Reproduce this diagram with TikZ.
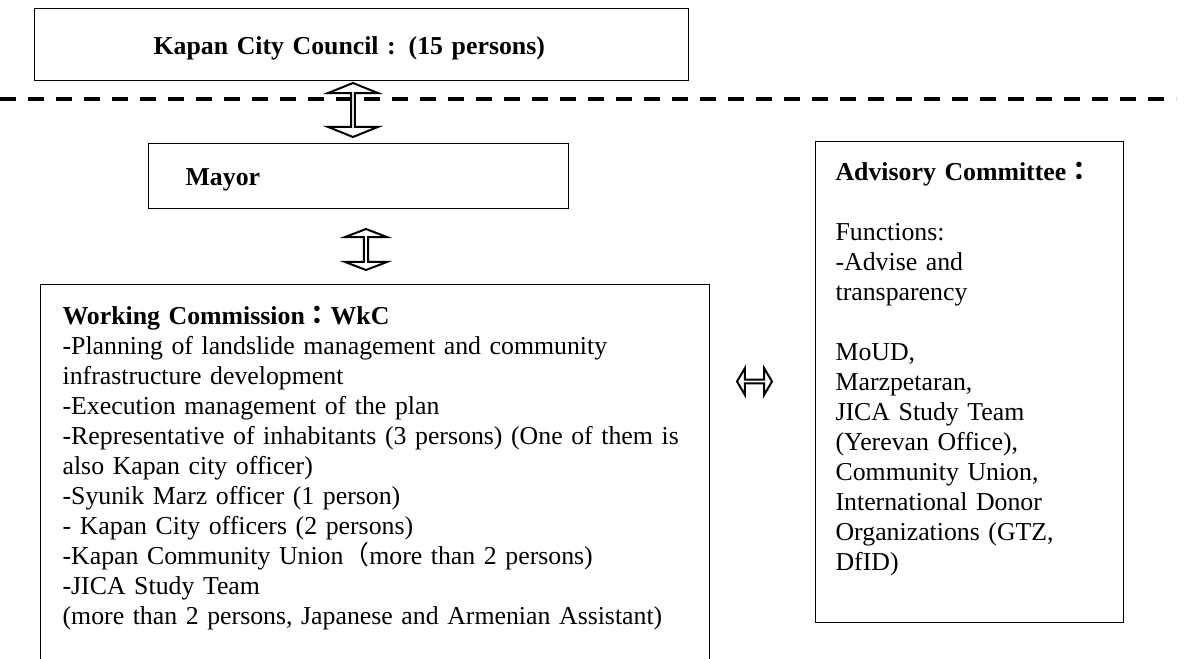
\documentclass[tikz,border=0pt]{standalone}
\usepackage{fontspec}
\setmainfont{Liberation Serif}
\newfontfamily\cjk{Noto Sans CJK JP}
\usetikzlibrary{positioning,shapes.arrows}

\begin{document}
\begin{tikzpicture}[
      x=0.5pt, y=-0.5pt,
      font=\fontsize{12.9}{15}\selectfont,
      box/.style={draw, line width=0.6pt, anchor=north west, inner ysep=0pt},
      dblarr/.style={double arrow, draw, line width=1pt, fill=white,
                     inner sep=0pt, double arrow head indent=0pt},
      sepline/.style={line width=2pt, dash pattern=on 8pt off 6pt}
    ]
    \clip (0,0) rectangle (1197,658);

    % Council
    \node[box, align=left, text width=208pt, inner xsep=59.5pt,
          text height=23pt, text depth=13pt]
      (council) at (34,8) {\textbf{Kapan City Council : (15 persons)}};

    % Mayor
    \node[box, align=left, text width=173pt, inner xsep=18.5pt,
          text height=21pt, text depth=11.5pt]
      (mayor) at (148,143) {\textbf{Mayor}};

    % Working commission
    \node[box, align=left, text width=312.5pt, inner xsep=11pt,
          text height=20pt, text depth=200pt]
      (wkc) at (40,284) {\textbf{Working Commission{\cjk ：}WkC}\\
        -Planning of landslide management and community\\
        infrastructure development\\
        -Execution management of the plan\\
        -Representative of inhabitants (3 persons) (One of them is\\
        also Kapan city officer)\\
        -Syunik Marz officer (1 person)\\
        - Kapan City officers (2 persons)\\
        -Kapan Community Union{\cjk （}more than 2 persons)\\
        -JICA Study Team\\
        (more than 2 persons, Japanese and Armenian Assistant)};

    % Advisory committee
    \node[box, align=left, text width=134pt, inner xsep=10pt,
          text height=19.5pt, text depth=221pt]
      (adv) at (815,141) {\textbf{Advisory Committee{\cjk ：}}\\[15pt]
        Functions:\\
        -Advise and\\
        transparency\\[15pt]
        MoUD,\\
        Marzpetaran,\\
        JICA Study Team\\
        (Yerevan Office),\\
        Community Union,\\
        International Donor\\
        Organizations (GTZ,\\
        DfID)};

    % links
    \node[dblarr, rotate=90, minimum height=27pt, minimum width=25pt,
          double arrow head extend=6.25pt, double arrow tip angle=136]
      (up) at (353,110) {};
    \node[dblarr, rotate=90, minimum height=20.5pt, minimum width=21pt,
          double arrow head extend=4.25pt, double arrow tip angle=138]
      (down) at (366,249.5) {};
    \node[dblarr, minimum height=17.5pt, minimum width=13.5pt,
          double arrow head extend=3.25pt, double arrow tip angle=119]
      (side) at (754.5,381.5) {};

    % council border
    \draw[sepline] (0,99) -- (1176,99);
  \end{tikzpicture}
\end{document}
